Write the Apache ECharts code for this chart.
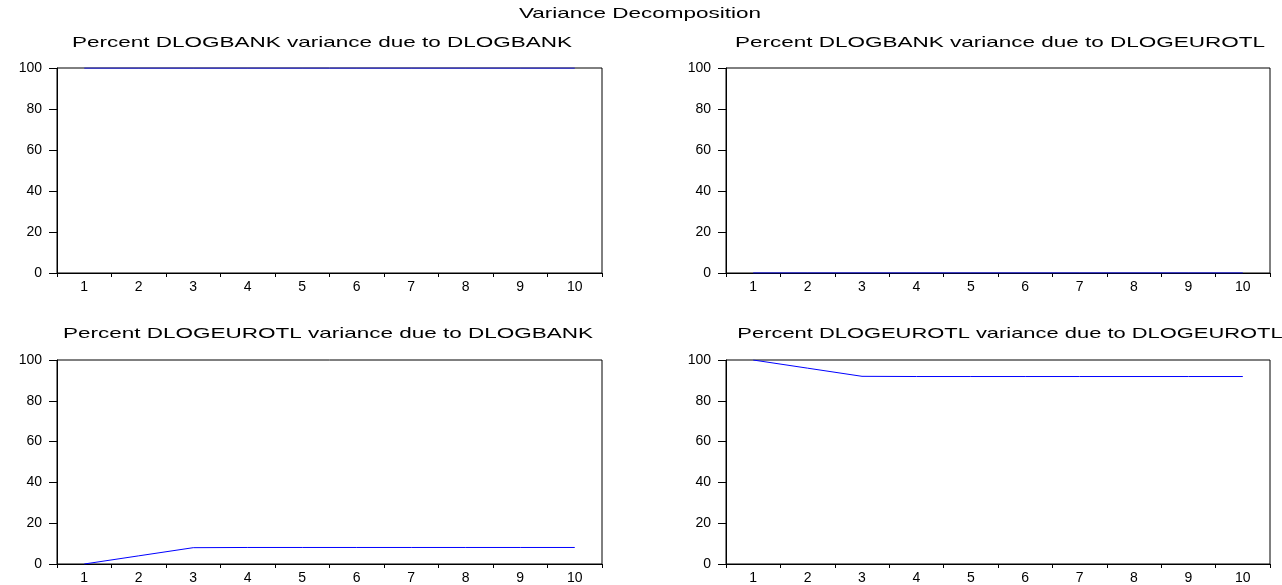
<!DOCTYPE html>
<html>
<head>
<meta charset="utf-8">
<script src="https://cdn.jsdelivr.net/npm/echarts@6/dist/echarts.min.js"></script>
<style>
  html, body { margin: 0; padding: 0; background: #fff; }
  #main { width: 1282px; height: 585px; }
</style>
</head>
<body>
<div id="main"></div>
<script>
// forecast horizon (periods)
const periods = ['1', '2', '3', '4', '5', '6', '7', '8', '9', '10']
const yTicks = [0, 20, 40, 60, 80, 100]

// variance decomposition, percent
const bankDueBank = [100, 100, 100, 100, 100, 100, 100, 100, 100, 100]
const bankDueEuro = [0, 0, 0, 0, 0, 0, 0, 0, 0, 0]
const euroDueBank = [0, 4.0, 8.0, 8.1, 8.1, 8.1, 8.1, 8.1, 8.1, 8.1]
const euroDueEuro = [100, 96.0, 92.0, 91.9, 91.9, 91.9, 91.9, 91.9, 91.9, 91.9]

const mainTitle = 'Variance Decomposition'
const panelTitles = [
  'Percent DLOGBANK variance due to DLOGBANK',
  'Percent DLOGBANK variance due to DLOGEUROTL',
  'Percent DLOGEUROTL variance due to DLOGBANK',
  'Percent DLOGEUROTL variance due to DLOGEUROTL',
]
const panelData = [bankDueBank, bankDueEuro, euroDueBank, euroDueEuro]

const FONT = "'Liberation Sans', Arial, sans-serif"
const grids = [
  { left: 57, top: 68, width: 545, height: 205 },
  { left: 726, top: 68, width: 544, height: 205 },
  { left: 57, top: 360, width: 545, height: 205 },
  { left: 726, top: 360, width: 544, height: 205 },
]
// the original graph text is drawn wide, so titles get stretched
const titlePos = [[322, 43], [1000, 43], [328, 334], [1010, 334]]
const titleStretch = [1.5, 1.5, 1.5, 1.46]

function wideText(text, x, y, sx) {
  return {
    type: 'text',
    x: x,
    y: y,
    scaleX: sx,
    silent: true,
    style: {
      text: text,
      x: 0,
      y: 0,
      font: '15px ' + FONT,
      fill: '#000',
      textAlign: 'center',
      textVerticalAlign: 'middle',
    },
  }
}

const chart = echarts.init(document.getElementById('main'))
chart.setOption({
  animation: false,
  backgroundColor: '#fff',
  graphic: [wideText(mainTitle, 640, 14, 1.5)].concat(
    panelTitles.map((t, i) => wideText(t, titlePos[i][0], titlePos[i][1], titleStretch[i]))
  ),
  grid: grids.map((g) => ({
    ...g,
    show: true,
    borderColor: '#000',
    borderWidth: 1,
    backgroundColor: 'transparent',
  })),
  xAxis: grids.map((g, i) => ({
    type: 'category',
    gridIndex: i,
    data: periods,
    boundaryGap: true,
    axisLine: { lineStyle: { color: '#000', width: 1 } },
    axisTick: { show: true, length: 4, interval: 0, lineStyle: { color: '#000' } },
    axisLabel: { fontFamily: FONT, fontSize: 14, color: '#000', margin: 7, interval: 0 },
    splitLine: { show: false },
  })),
  yAxis: grids.map((g, i) => ({
    type: 'value',
    gridIndex: i,
    min: yTicks[0],
    max: yTicks[yTicks.length - 1],
    interval: 20,
    axisLine: { show: true, lineStyle: { color: '#000', width: 1 } },
    axisTick: { show: true, length: 8, lineStyle: { color: '#000' } },
    axisLabel: { fontFamily: FONT, fontSize: 14, color: '#000', margin: 15 },
    splitLine: { show: false },
  })),
  series: panelData.map((d, i) => ({
    type: 'line',
    xAxisIndex: i,
    yAxisIndex: i,
    data: d,
    showSymbol: false,
    lineStyle: { color: '#0000ff', width: 1 },
    itemStyle: { color: '#0000ff' },
  })),
})
</script>
</body>
</html>
